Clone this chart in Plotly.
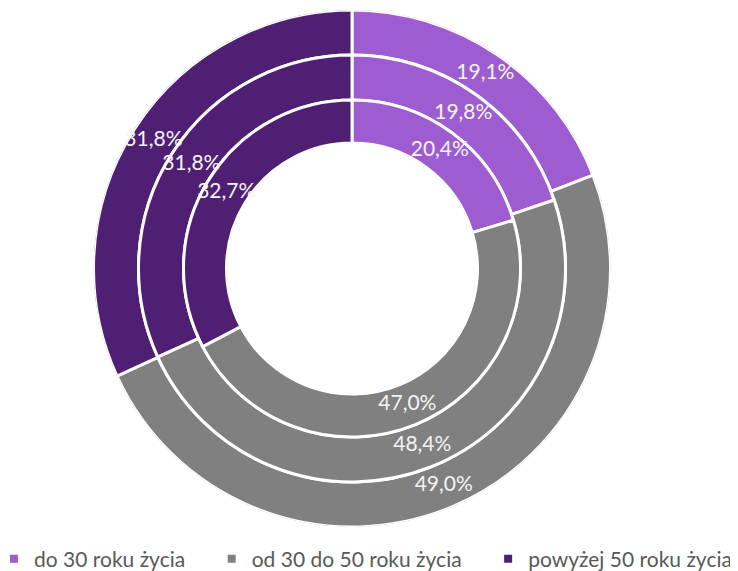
import plotly.graph_objects as go

categories = ["do 30 roku życia", "od 30 do 50 roku życia", "powyżej 50 roku życia"]
outer_values = [19.1, 49.0, 31.8]
middle_values = [19.8, 48.4, 31.8]
inner_values = [20.4, 47.0, 32.7]
colors = ["#9d5dd1", "#808080", "#4f1f74"]

W, H = 738, 571
# page has an 8px body margin, so compensate in figure coordinates
cx, cy = 344, 260.5
# ring boundaries (outer -> inner), in radial-axis units (= pixels here)
radii = [258.5, 213.5, 168.5, 125.5]
rings = [outer_values, middle_values, inner_values]

# angular geometry for each ring derived from the values
ring_mid = []
ring_width = []
for vals in rings:
    tot = sum(vals)
    cum = 0.0
    mids, widths = [], []
    for v in vals:
        mids.append((cum + v / 2) * 360 / tot)
        widths.append(v * 360 / tot)
        cum += v
    ring_mid.append(mids)
    ring_width.append(widths)

fig = go.Figure()
for c, cat in enumerate(categories):
    fig.add_trace(go.Barpolar(
        name=cat,
        legendgroup=cat,
        showlegend=False,
        theta=[ring_mid[i][c] for i in range(3)],
        width=[ring_width[i][c] for i in range(3)],
        base=[radii[i + 1] for i in range(3)],
        r=[radii[i] - radii[i + 1] for i in range(3)],
        marker=dict(color=colors[c], line=dict(color="white", width=3)),
        hovertemplate=cat + "<extra></extra>",
    ))

# legend entries (square markers); trailing no-break spaces widen item spacing
pad = "\u00a0" * 4
for c, cat in enumerate(categories):
    fig.add_trace(go.Scatterpolar(
        name=cat + (pad if c < len(categories) - 1 else ""),
        legendgroup=cat,
        r=[None], theta=[None], mode="markers",
        marker=dict(symbol="square", size=8, color=colors[c]),
        showlegend=True, hoverinfo="skip",
    ))

# labels
lab_theta, lab_r, lab_text = [], [], []
for i, vals in enumerate(rings):
    for c, v in enumerate(vals):
        lab_theta.append(ring_mid[i][c])
        lab_r.append((radii[i] + radii[i + 1]) / 2)
        lab_text.append(f"{v:.1f}%".replace(".", ","))

fig.add_trace(go.Scatterpolar(
    theta=lab_theta, r=lab_r, text=lab_text, mode="text",
    textfont=dict(color="#f4f4f4", size=21, family="Lato"),
    showlegend=False, hoverinfo="skip",
))

fig.update_layout(
    width=W, height=H,
    margin=dict(l=0, r=0, t=0, b=0, autoexpand=False),
    paper_bgcolor="white",
    plot_bgcolor="white",
    polar=dict(
        domain=dict(
            x=[(cx - radii[0]) / W, (cx + radii[0]) / W],
            y=[(H - cy - radii[0]) / H, (H - cy + radii[0]) / H],
        ),
        bgcolor="rgba(0,0,0,0)",
        radialaxis=dict(visible=False, range=[0, radii[0]], showgrid=False),
        angularaxis=dict(visible=False, rotation=90, direction="clockwise", showgrid=False),
    ),
    font=dict(family="Lato", color="#595959"),
    legend=dict(
        orientation="h",
        x=-0.019, xanchor="left",
        y=-0.001, yanchor="bottom",
        font=dict(size=21, color="#595959", family="Lato"),
        traceorder="normal",
        itemwidth=30,
    ),
)

fig.write_html("out.html")
